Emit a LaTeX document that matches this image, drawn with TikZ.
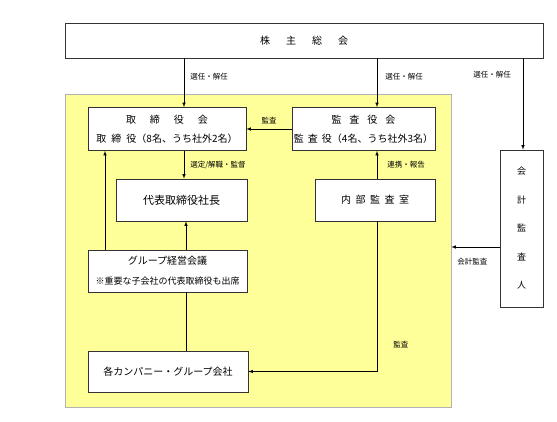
\documentclass[tikz,border=0pt]{standalone}
\usepackage{fontspec}
\setmainfont{Noto Sans CJK JP}
\definecolor{areacol}{HTML}{FFFF99}
\tikzset{
  box/.style={draw=black!80, fill=white, inner sep=0pt, align=center, font=\fontsize{10}{19}\selectfont},
  lbl/.style={font=\fontsize{7.5}{9}\selectfont, inner sep=0pt, anchor=west},
  >=latex
}

\begin{document}
\begin{tikzpicture}[x=1pt, y=-1pt, line width=0.6pt]
            \useasboundingbox (0,0) rectangle (557,421);
            \node[draw=black!30, fill=areacol, minimum width=386pt, minimum height=313pt, inner sep=0pt] (area) at (258,250.5) {};

            \node[box, minimum width=478pt, minimum height=35pt] (meeting) at (304,40.5) {株\hspace{16pt}主\hspace{16pt}総\hspace{16pt}会};
            \node[box, minimum width=158pt, minimum height=43pt] (board) at (167,129) {取\hspace{14pt}締\hspace{14pt}役\hspace{14pt}会\\取\hspace{5pt}締\hspace{5pt}役（8名、うち社外2名）};
            \node[box, minimum width=143pt, minimum height=43pt] (kansa) at (363.5,129) {監\hspace{8pt}査\hspace{8pt}役\hspace{8pt}会\\監\hspace{4pt}査\hspace{4pt}役（4名、うち社外3名）};
            \node[box, minimum width=131pt, minimum height=42pt, font=\fontsize{11}{17}\selectfont] (daihyo) at (181.5,200) {代表取締役社長};
            \node[box, minimum width=120pt, minimum height=42pt] (naibu) at (375,200) {内\hspace{4.5pt}部\hspace{4.5pt}監\hspace{4.5pt}査\hspace{4.5pt}室};
            \node[box, minimum width=159pt, minimum height=42pt, font=\fontsize{10}{17}\selectfont] (group) at (167.5,271) {グループ経営会議\\[3pt]{\fontsize{9}{11}\selectfont ※重要な子会社の代表取締役も出席}};
            \node[box, minimum width=160pt, minimum height=41pt] (kaisha) at (168,371.5) {各カンパニー・グループ会社};
            \node[box, minimum width=43pt, minimum height=157pt, font=\fontsize{9}{28.5}\selectfont] (kaikei) at (521.5,228.5) {会\\計\\監\\査\\人};

            \coordinate (xa) at (184,0);
            \coordinate (xb) at (377,0);
            \coordinate (xc) at (523,0);
            \coordinate (xd) at (186,0);
            \coordinate (xe) at (105,0);
            \coordinate (ya) at (0,247);

            \draw[->] (meeting.south -| xa) -- (board.north -| xa);
            \draw[->] (meeting.south -| xb) -- (kansa.north -| xb);
            \draw[->] (meeting.south -| xc) -- (kaikei.north -| xc);
            \draw[->] (kansa.west) -- (board.east);
            \draw[->] (board.south -| xa) -- (daihyo.north -| xa);
            \draw[->] (naibu.north -| xb) -- (kansa.south -| xb);
            \draw[->] (group.north -| xd) -- (daihyo.south -| xd);
            \draw[->] (group.north -| xe) -- (board.south -| xe);
            \draw (kaisha.north -| xd) -- (group.south -| xd);
            \draw[->] (naibu.south -| xb) |- (kaisha.east);
            \draw[->] (kaikei.west |- ya) -- (area.east |- ya);

            \node[lbl] (sen1) at (190,77) {選任・解任};
            \node[lbl] (sen2) at (385,77) {選任・解任};
            \node[lbl] (sen3) at (473,75) {選任・解任};
            \node[lbl, anchor=center] (kan1) at (269,121) {監査};
            \node[lbl] (sentei) at (190,165) {選定/解職・監督};
            \node[lbl] (renkei) at (387,165) {連携・報告};
            \node[lbl] (kan2) at (393,345) {監査};
            \node[lbl] (kaikan) at (457,262) {会計監査};
        \end{tikzpicture}
\end{document}
